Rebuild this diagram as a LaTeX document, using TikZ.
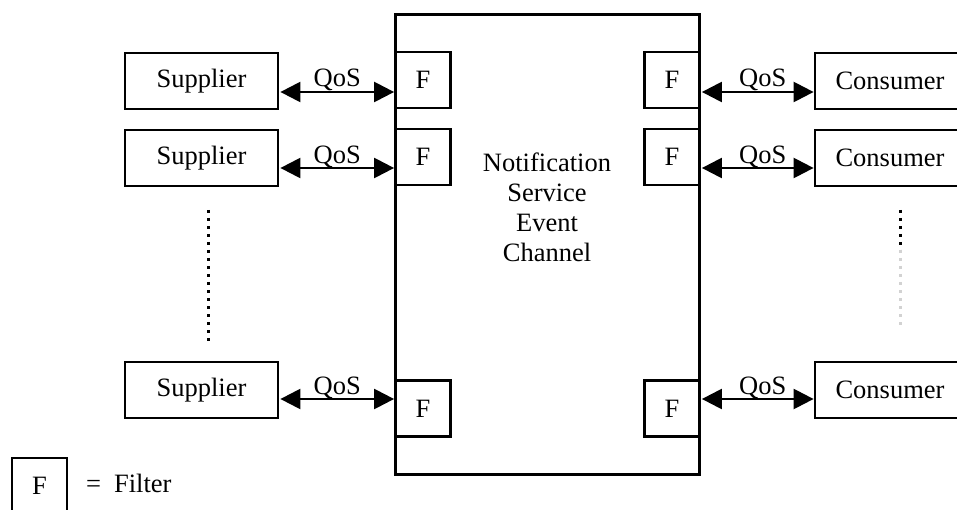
\documentclass[tikz,border=0pt]{standalone}
\usepackage{fontspec}
\setmainfont{Liberation Serif}
\usetikzlibrary{arrows.meta,calc}
\begin{document}
\begin{tikzpicture}[x=1pt,y=-1pt,
  font=\fontsize{26.5}{30}\selectfont,
  box/.style={draw,line width=2.8pt,rectangle,inner sep=0pt,anchor=center},
  endbox/.style={box,minimum width=153pt,minimum height=56pt},
  fbox/.style={box,minimum width=55pt,minimum height=56pt,fill=white},
  qos/.style={line width=2.4pt,{Triangle[length=20pt,width=20pt]}-{Triangle[length=20pt,width=20pt]}},
  qlabel/.style={anchor=base,inner sep=0pt},
  dotline/.style={line width=3pt,dash pattern=on 3pt off 5pt}
]
\useasboundingbox (0,0) rectangle (957,510);
\fill[white] (0,0) rectangle (957,510);
% main channel
\node[box,line width=3pt,minimum width=304pt,minimum height=459pt] (ch) at (547,244.5) {};
\node[align=center,inner sep=0pt] (chtext) at (547,207) {Notification\\Service\\Event\\Channel};
% filters
\node[fbox] (fl1) at (423,80) {F};
\node[fbox] (fl2) at (423,157) {F};
\node[fbox] (fl3) at (423,408.5) {F};
\node[fbox] (fr1) at (672,80) {F};
\node[fbox] (fr2) at (672,157) {F};
\node[fbox] (fr3) at (672,408.5) {F};
% suppliers
\node[endbox] (s1) at (201.5,81) {Supplier};
\node[endbox] (s2) at (201.5,158) {Supplier};
\node[endbox] (s3) at (201.5,390) {Supplier};
% consumers
\node[endbox,minimum width=150pt] (c1) at (890,81) {Consumer};
\node[endbox,minimum width=150pt] (c2) at (890,158) {Consumer};
\node[endbox,minimum width=150pt] (c3) at (890,390) {Consumer};
% arrows left
\draw[qos] ([yshift=-11pt,xshift=1pt]s1.east) -- ([yshift=-11pt]s1.east -| fl1.west) node[midway,qlabel,yshift=5pt] {QoS};
\draw[qos] ([yshift=-10pt,xshift=1pt]s2.east) -- ([yshift=-10pt]s2.east -| fl2.west) node[midway,qlabel,yshift=4pt] {QoS};
\draw[qos] ([yshift=-9pt,xshift=1pt]s3.east) -- ([yshift=-9pt]s3.east -| fl3.west) node[midway,qlabel,yshift=5pt] {QoS};
% arrows right
\draw[qos] ([yshift=-12pt,xshift=1pt]fr1.east) -- ([yshift=-12pt]fr1.east -| c1.west) node[midway,qlabel,yshift=5pt,xshift=5pt] {QoS};
\draw[qos] ([yshift=-11pt,xshift=1pt]fr2.east) -- ([yshift=-11pt]fr2.east -| c2.west) node[midway,qlabel,yshift=4pt,xshift=5pt] {QoS};
\draw[qos] ([yshift=-9pt,xshift=1pt]fr3.east |- s3.east) -- ([yshift=-9pt]c3.west) node[midway,qlabel,yshift=5pt,xshift=5pt] {QoS};
% dotted continuation
\coordinate (dl1) at (208,210);
\coordinate (dl2) at (208,342);
\draw[dotline] (dl1) -- (dl2);
\coordinate (dr1) at (900,210);
\coordinate (dr2) at (900,250);
\coordinate (dr3) at (900,326);
\draw[dotline] (dr1) -- (dr2);
\draw[dotline,gray!35] (dr2) -- (dr3);
% legend
\node[box,minimum width=55pt,minimum height=62pt] (leg) at (39.5,489) {\raisebox{7pt}{F}};
\node[anchor=west,inner sep=0pt] (legtext) at (86,483) {=\hskip 13pt Filter};
\end{tikzpicture}
\end{document}
